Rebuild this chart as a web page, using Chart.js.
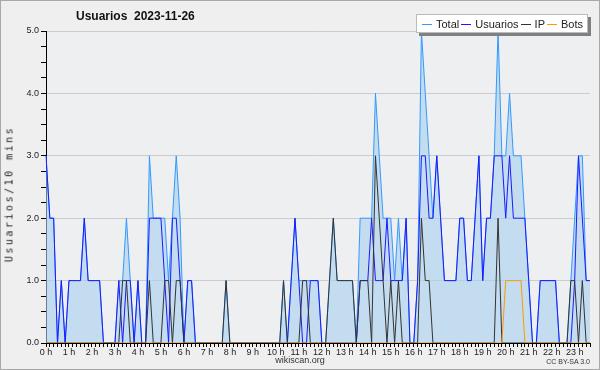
<!DOCTYPE html>
<html>

<head>
    <meta charset="utf-8">
    <title>Usuarios 2023-11-26</title>
    <script src="https://cdn.jsdelivr.net/npm/chart.js"></script>
    <style>
        body {
            margin: 0;
            background: #efefef;
        }

        #wrap {
            position: relative;
            width: 600px;
            height: 370px;
            background: #efefef;
            font-family: "Liberation Sans", Arial, sans-serif;
            color: #111;
        }

        #frame {
            position: absolute;
            left: 0;
            top: 0;
            width: 600px;
            height: 370px;
            box-sizing: border-box;
            border: 1px solid #a8a8a8;
            pointer-events: none;
        }

        #title {
            position: absolute;
            left: 76px;
            top: 9px;
            font-size: 12px;
            font-weight: bold;
            white-space: pre;
        }

        #legend {
            position: absolute;
            left: 416px;
            top: 14px;
            width: 172px;
            height: 19px;
            box-sizing: border-box;
            background: #fff;
            border: 1px solid #bbb;
            box-shadow: 3px 3px 0 #808080;
            font-size: 11px;
            color: #222;
            display: flex;
            align-items: center;
            justify-content: space-between;
            padding: 0 4px 0 5px;
            white-space: nowrap;
        }

        #legend > span {
            white-space: nowrap;
            flex: none;
        }

        #legend span.sw {
            display: inline-block;
            width: 10px;
            height: 1px;
            margin-right: 4px;
            vertical-align: middle;
        }

        #ylabel {
            position: absolute;
            left: 9px;
            top: 194px;
            transform: translate(-50%, -50%) rotate(-90deg);
            font-family: "DejaVu Sans Mono", monospace;
            font-size: 10px;
            letter-spacing: 2.5px;
            color: #222;
            white-space: nowrap;
        }

        #site {
            position: absolute;
            left: 0;
            width: 600px;
            top: 355px;
            text-align: center;
            font-size: 9px;
            color: #333;
        }

        #lic {
            position: absolute;
            right: 10px;
            top: 358px;
            font-size: 7px;
            color: #333;
        }
    </style>
</head>

<body>
    <div id="wrap">
        <canvas id="usuariosChart" width="600" height="370"></canvas>
        <div id="title">Usuarios  2023-11-26</div>
        <div id="legend">
            <span><span class="sw" style="background:#3399ff"></span>Total</span>
            <span><span class="sw" style="background:#1a1aff"></span>Usuarios</span>
            <span><span class="sw" style="background:#333"></span>IP</span>
            <span><span class="sw" style="background:#ff9900"></span>Bots</span>
        </div>
        <div id="ylabel">Usuarios/10 mins</div>
        <div id="site">wikiscan.org</div>
        <div id="lic">CC BY-SA 3.0</div>
        <div id="frame"></div>
    </div>

    <script>
        // one value per 10 minutes, 00:00 .. 23:40
        const hourLabels = ['0 h', '1 h', '2 h', '3 h', '4 h', '5 h', '6 h', '7 h', '8 h', '9 h', '10 h', '11 h',
            '12 h', '13 h', '14 h', '15 h', '16 h', '17 h', '18 h', '19 h', '20 h', '21 h', '22 h', '23 h'];

        const total = [
            3, 2, 2, 0, 1, 0, 1, 1, 1, 1, 2, 1, 1, 1, 1, 0, 0, 0, 0, 1, 1, 2, 1, 0,
            1, 0, 0, 3, 2, 2, 2, 2, 1, 2, 3, 2, 0, 1, 1, 0, 0, 0, 0, 0, 0, 0, 0, 1,
            0, 0, 0, 0, 0, 0, 0, 0, 0, 0, 0, 0, 0, 0, 1, 0, 1, 2, 1, 1, 1, 1, 1, 1,
            0, 0, 1, 2, 1, 1, 1, 1, 1, 0, 2, 2, 2, 2, 4, 3, 2, 2, 2, 1, 2, 1, 2, 0,
            0, 1, 5, 4, 3, 2, 3, 2, 1, 1, 1, 1, 2, 2, 1, 1, 2, 3, 1, 2, 2, 3, 5, 3,
            3, 4, 3, 3, 3, 2, 1, 0, 0, 1, 1, 1, 1, 1, 0, 0, 0, 1, 2, 3, 3, 1, 1
        ];

        const usuarios = [
            3, 2, 2, 0, 1, 0, 1, 1, 1, 1, 2, 1, 1, 1, 1, 0, 0, 0, 0, 1, 0, 1, 1, 0,
            1, 0, 0, 2, 2, 2, 2, 1, 0, 2, 2, 1, 0, 1, 1, 0, 0, 0, 0, 0, 0, 0, 0, 0,
            0, 0, 0, 0, 0, 0, 0, 0, 0, 0, 0, 0, 0, 0, 0, 0, 1, 2, 1, 0, 0, 1, 1, 1,
            0, 0, 0, 0, 0, 0, 0, 0, 0, 0, 1, 1, 1, 2, 1, 1, 1, 2, 1, 1, 1, 1, 2, 0,
            0, 1, 3, 3, 2, 2, 3, 2, 1, 1, 1, 1, 2, 2, 1, 1, 2, 3, 1, 2, 2, 3, 3, 3,
            2, 3, 2, 2, 2, 2, 1, 0, 0, 1, 1, 1, 1, 1, 0, 0, 0, 0, 1, 3, 2, 1, 1
        ];

        const ip = [
            0, 0, 0, 0, 0, 0, 0, 0, 0, 0, 0, 0, 0, 0, 0, 0, 0, 0, 0, 0, 1, 1, 0, 0,
            0, 0, 0, 1, 0, 0, 0, 1, 1, 0, 1, 1, 0, 0, 0, 0, 0, 0, 0, 0, 0, 0, 0, 1,
            0, 0, 0, 0, 0, 0, 0, 0, 0, 0, 0, 0, 0, 0, 1, 0, 0, 0, 0, 1, 1, 0, 0, 0,
            0, 0, 1, 2, 1, 1, 1, 1, 1, 0, 1, 1, 1, 0, 3, 2, 1, 0, 1, 0, 1, 0, 0, 0,
            0, 0, 2, 1, 1, 0, 0, 0, 0, 0, 0, 0, 0, 0, 0, 0, 0, 0, 0, 0, 0, 0, 2, 0,
            0, 0, 0, 0, 0, 0, 0, 0, 0, 0, 0, 0, 0, 0, 0, 0, 0, 1, 1, 0, 1, 0, 0
        ];

        const bots = [
            0, 0, 0, 0, 0, 0, 0, 0, 0, 0, 0, 0, 0, 0, 0, 0, 0, 0, 0, 0, 0, 0, 0, 0,
            0, 0, 0, 0, 0, 0, 0, 0, 0, 0, 0, 0, 0, 0, 0, 0, 0, 0, 0, 0, 0, 0, 0, 0,
            0, 0, 0, 0, 0, 0, 0, 0, 0, 0, 0, 0, 0, 0, 0, 0, 0, 0, 0, 0, 0, 0, 0, 0,
            0, 0, 0, 0, 0, 0, 0, 0, 0, 0, 0, 0, 0, 0, 0, 0, 0, 0, 0, 0, 0, 0, 0, 0,
            0, 0, 0, 0, 0, 0, 0, 0, 0, 0, 0, 0, 0, 0, 0, 0, 0, 0, 0, 0, 0, 0, 0, 0,
            1, 1, 1, 1, 1, 0, 0, 0, 0, 0, 0, 0, 0, 0, 0, 0, 0, 0, 0, 0, 0, 0, 0
        ];

        const slots = total.map((v, i) => i);

        // plot background
        const plotBg = {
            id: 'plotBg',
            beforeDraw(chart) {
                const { ctx, chartArea: a } = chart;
                ctx.save();
                ctx.fillStyle = '#eeeff0';
                ctx.fillRect(a.left, a.top, a.right - a.left, a.bottom - a.top);
                ctx.restore();
            }
        };

        const ctx = document.getElementById('usuariosChart').getContext('2d');

        const line = (label, data, color, order, extra) => Object.assign({
            label: label,
            data: data,
            borderColor: color,
            borderWidth: 1,
            pointRadius: 0,
            tension: 0,
            fill: false,
            order: order
        }, extra || {});

        new Chart(ctx, {
            type: 'line',
            data: {
                labels: slots,
                datasets: [
                    line('Total', total, '#3399ff', 4, { fill: 'origin', backgroundColor: 'rgba(168, 206, 238, 0.6)' }),
                    line('Usuarios', usuarios, '#1a1aff', 3),
                    line('IP', ip, '#333333', 2),
                    line('Bots', bots, '#ff9900', 1)
                ]
            },
            options: {
                responsive: false,
                animation: false,
                layout: { padding: { top: 31, right: 10, left: 0, bottom: 0 } },
                plugins: {
                    legend: { display: false },
                    tooltip: { enabled: false }
                },
                scales: {
                    x: {
                        type: 'category',
                        offset: false,
                        z: 1,
                        afterFit: s => { s.height = 27; },
                        grid: {
                            drawOnChartArea: false,
                            drawTicks: true,
                            tickLength: 4,
                            tickColor: '#000'
                        },
                        border: { display: true, color: '#000', width: 1 },
                        ticks: {
                            autoSkip: false,
                            maxRotation: 0,
                            padding: 0,
                            color: '#222',
                            font: { family: 'Liberation Sans', size: 9 },
                            callback: (v, i) => i % 6 === 0 ? hourLabels[i / 6] : ''
                        }
                    },
                    y: {
                        min: 0,
                        max: 5,
                        afterFit: s => { s.width = 46; },
                        grid: {
                            color: c => (c.tick && c.tick.value > 0 && c.tick.value % 1 === 0) ? '#cccccc' : 'rgba(0,0,0,0)',
                            tickColor: '#000',
                            tickLength: 5,
                            drawTicks: true
                        },
                        border: { display: true, color: '#000', width: 1 },
                        ticks: {
                            stepSize: 0.25,
                            autoSkip: false,
                            padding: 2,
                            color: '#222',
                            font: { family: 'Liberation Sans', size: 9 },
                            callback: v => v % 1 === 0 ? v.toFixed(1) : ''
                        }
                    }
                }
            },
            plugins: [plotBg]
        });
    </script>

</body>

</html>
